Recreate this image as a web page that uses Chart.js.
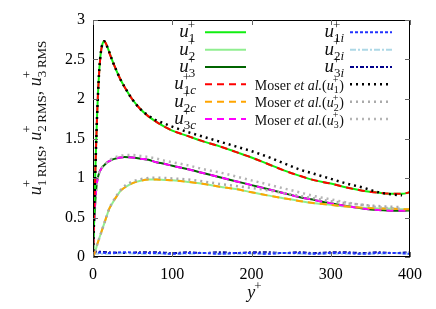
<!DOCTYPE html>
<html>
<head>
<meta charset="utf-8">
<script src="https://cdn.jsdelivr.net/npm/chart.js@4.4.0/dist/chart.umd.min.js"></script>
<style>
  html, body { margin: 0; padding: 0; background: #fff; }
</style>
</head>
<body>
<canvas id="chart" width="436" height="309"></canvas>
<script>
// y+ grid of the present simulation
const yPlus = [0, 1, 2, 3, 4, 5, 6, 8, 10, 12, 14, 16, 18, 20, 25, 30, 35, 40, 50, 60,
  70, 80, 90, 100, 120, 140, 160, 180, 200, 220, 240, 260, 280, 300, 320, 340, 360, 380, 390, 400];

const u1 = [0, 0.38, 0.75, 1.1, 1.45, 1.75, 2.0, 2.38, 2.6, 2.7, 2.73, 2.71, 2.66, 2.61, 2.47, 2.35, 2.24, 2.15, 1.99, 1.87,
  1.78, 1.71, 1.65, 1.60, 1.53, 1.46, 1.40, 1.33, 1.26, 1.18, 1.10, 1.03, 0.97, 0.93, 0.88, 0.84, 0.815, 0.80, 0.80, 0.82];
const u2 = [0, 0.02, 0.05, 0.08, 0.11, 0.15, 0.18, 0.24, 0.30, 0.36, 0.42, 0.48, 0.54, 0.60, 0.69, 0.77, 0.84, 0.88, 0.935, 0.965,
  0.98, 0.98, 0.975, 0.97, 0.95, 0.925, 0.89, 0.86, 0.82, 0.78, 0.745, 0.71, 0.68, 0.66, 0.64, 0.625, 0.615, 0.61, 0.605, 0.605];
const u3 = [0, 0.35, 0.55, 0.72, 0.85, 0.94, 1.0, 1.07, 1.11, 1.14, 1.16, 1.18, 1.20, 1.21, 1.235, 1.25, 1.26, 1.265, 1.26, 1.245,
  1.23, 1.20, 1.18, 1.155, 1.11, 1.06, 1.01, 0.96, 0.91, 0.86, 0.81, 0.76, 0.72, 0.68, 0.645, 0.615, 0.595, 0.585, 0.585, 0.59];

const u1c = [0, 0.37, 0.74, 1.1, 1.44, 1.74, 2.0, 2.37, 2.59, 2.7, 2.73, 2.71, 2.66, 2.6, 2.47, 2.35, 2.24, 2.15, 1.99, 1.87,
  1.78, 1.71, 1.65, 1.6, 1.53, 1.46, 1.4, 1.33, 1.26, 1.18, 1.1, 1.03, 0.97, 0.93, 0.88, 0.84, 0.815, 0.8, 0.8, 0.82];
const u2c = [0, 0.02, 0.05, 0.08, 0.11, 0.15, 0.18, 0.24, 0.30, 0.36, 0.42, 0.48, 0.54, 0.60, 0.69, 0.77, 0.84, 0.88, 0.935, 0.965,
  0.98, 0.98, 0.975, 0.97, 0.95, 0.925, 0.89, 0.86, 0.82, 0.78, 0.745, 0.71, 0.68, 0.66, 0.64, 0.625, 0.615, 0.61, 0.605, 0.605];
const u3c = [0, 0.35, 0.55, 0.72, 0.85, 0.94, 1.0, 1.07, 1.11, 1.14, 1.16, 1.18, 1.20, 1.21, 1.235, 1.25, 1.26, 1.265, 1.26, 1.245,
  1.23, 1.20, 1.18, 1.155, 1.11, 1.06, 1.01, 0.96, 0.91, 0.86, 0.81, 0.76, 0.72, 0.68, 0.645, 0.615, 0.595, 0.585, 0.585, 0.59];

// near-zero components
const iPlus = [0, 20, 40, 60, 80, 100, 120, 140, 160, 180, 200, 220, 240, 260, 280, 300, 320, 340, 360, 380, 400];
const u1i = [0.06, 0.05, 0.06, 0.05, 0.05, 0.04, 0.05, 0.05, 0.04, 0.05, 0.05, 0.04, 0.05, 0.05, 0.04, 0.05, 0.05, 0.04, 0.05, 0.05, 0.04];
const u2i = [0.04, 0.04, 0.05, 0.04, 0.04, 0.04, 0.04, 0.05, 0.04, 0.04, 0.04, 0.04, 0.05, 0.04, 0.04, 0.04, 0.04, 0.04, 0.04, 0.05, 0.04];
const u3i = [0.07, 0.06, 0.05, 0.06, 0.06, 0.05, 0.06, 0.05, 0.06, 0.05, 0.06, 0.06, 0.05, 0.06, 0.05, 0.06, 0.06, 0.05, 0.06, 0.05, 0.06];

// Moser et al. reference data
const mPlus = [0, 1, 2, 3, 4, 5, 6, 8, 10, 12, 14, 16, 18, 20, 25, 30, 35, 40, 50, 60,
  70, 80, 90, 100, 120, 140, 160, 180, 200, 220, 240, 260, 280, 300, 320, 340, 360, 380, 390];
const moser1 = [0, 0.38, 0.75, 1.1, 1.45, 1.75, 2.0, 2.38, 2.6, 2.7, 2.73, 2.71, 2.66, 2.61, 2.47, 2.35, 2.24, 2.15, 1.99, 1.87,
  1.79, 1.73, 1.69, 1.65, 1.58, 1.52, 1.46, 1.40, 1.34, 1.27, 1.19, 1.11, 1.05, 0.99, 0.93, 0.88, 0.82, 0.79, 0.78];
const moser2 = [0, 0.02, 0.05, 0.08, 0.11, 0.15, 0.18, 0.24, 0.30, 0.36, 0.42, 0.48, 0.54, 0.60, 0.70, 0.78, 0.85, 0.90, 0.955, 0.985,
  1.0, 1.005, 1.0, 0.995, 0.98, 0.955, 0.925, 0.90, 0.875, 0.845, 0.81, 0.775, 0.74, 0.705, 0.68, 0.66, 0.645, 0.635, 0.63];
const moser3 = [0, 0.35, 0.55, 0.72, 0.85, 0.94, 1.0, 1.07, 1.11, 1.14, 1.16, 1.18, 1.20, 1.22, 1.25, 1.27, 1.28, 1.29, 1.29, 1.28,
  1.265, 1.245, 1.22, 1.20, 1.16, 1.11, 1.07, 1.02, 0.97, 0.92, 0.87, 0.82, 0.77, 0.73, 0.69, 0.66, 0.63, 0.615, 0.61];

const xTicks = [0, 100, 200, 300, 400];
const yTicks = [0, 0.5, 1, 1.5, 2, 2.5, 3];

const SERIF = "'Liberation Serif', 'DejaVu Serif', serif";
const fontOf = (size, it) => (it ? 'italic ' : '') + size + 'px ' + SERIF;
const pts = (xs, ys) => xs.map((x, i) => ({ x: x, y: ys[i] }));

// label pieces: base text plus optional stacked sup/sub runs
const plus = [['+', false]];
const uLab = sub => [{ t: 'u', it: true, sup: plus, sub: sub }];
const moserLab = n => [{ t: 'Moser ', it: false }, { t: 'et al.', it: true }, { t: '(', it: false },
  { t: 'u', it: true, sup: plus, sub: [[n, false]] }, { t: ')', it: false }];

function line(label, xs, ys, color, dash, width, order, small) {
  return {
    data: pts(xs, ys), borderColor: color, borderDash: dash, borderWidth: width,
    order: order, pointRadius: 0, fill: false, legendLabel: label, legendSmall: !!small
  };
}

const datasets = [
  line(uLab([['1', false]]), yPlus, u1, '#11ee11', [], 2, 4),
  line(uLab([['2', false]]), yPlus, u2, '#90ee90', [], 2, 4),
  line(uLab([['3', false]]), yPlus, u3, '#006400', [], 2, 4),
  line(uLab([['1', false], ['c', true]]), yPlus, u1c, '#ff0000', [7, 5], 2, 2),
  line(uLab([['2', false], ['c', true]]), yPlus, u2c, '#ffa500', [7, 5], 2, 2),
  line(uLab([['3', false], ['c', true]]), yPlus, u3c, '#ff00ff', [7, 5], 2, 2),
  line(uLab([['1', false], ['i', true]]), iPlus, u1i, '#2233ff', [3, 2], 2, 3),
  line(uLab([['2', false], ['i', true]]), iPlus, u2i, '#add8e6', [6, 2, 2, 2], 2, 3),
  line(uLab([['3', false], ['i', true]]), iPlus, u3i, '#00008b', [4, 2, 2, 2], 2, 3),
  line(moserLab('1'), mPlus, moser1, '#000000', [2, 4], 2.5, 1, true),
  line(moserLab('2'), mPlus, moser2, '#aaaaaa', [2, 4], 2.5, 1, true),
  line(moserLab('3'), mPlus, moser3, '#b4b4b4', [2, 4], 2.5, 1, true)
];

function runWidth(ctx, run, size) {
  let w = 0;
  run.forEach(([t, it]) => { ctx.font = fontOf(size, it); w += ctx.measureText(t).width; });
  return w;
}
function drawRun(ctx, run, size, x, y) {
  run.forEach(([t, it]) => { ctx.font = fontOf(size, it); ctx.fillText(t, x, y); x += ctx.measureText(t).width; });
}
function richWidth(ctx, pieces, big, small) {
  let w = 0;
  pieces.forEach(p => {
    w += runWidth(ctx, [[p.t, p.it]], big);
    w += Math.max(p.sup ? runWidth(ctx, p.sup, small) : 0, p.sub ? runWidth(ctx, p.sub, small) : 0);
  });
  return w;
}
function drawRich(ctx, pieces, x, y, o) {
  const w = richWidth(ctx, pieces, o.big, o.small);
  let cx = o.align === 'right' ? x - w : o.align === 'center' ? x - w / 2 : x;
  ctx.textAlign = 'left';
  ctx.textBaseline = 'alphabetic';
  pieces.forEach(p => {
    drawRun(ctx, [[p.t, p.it]], o.big, cx, y);
    cx += runWidth(ctx, [[p.t, p.it]], o.big);
    if (p.sup) drawRun(ctx, p.sup, o.small, cx - 1, y + o.supDy);
    if (p.sub) drawRun(ctx, p.sub, o.small, cx, y + o.subDy);
    cx += Math.max(p.sup ? runWidth(ctx, p.sup, o.small) : 0, p.sub ? runWidth(ctx, p.sub, o.small) : 0);
  });
}

const framePlugin = {
  id: 'frame',
  afterDatasetsDraw(chart) {
    const { ctx, chartArea: a, scales: { x, y } } = chart;
    ctx.save();
    ctx.strokeStyle = '#000';
    ctx.lineWidth = 1;
    ctx.strokeRect(a.left + 0.5, a.top + 0.5, a.right - a.left - 1, a.bottom - a.top - 1);
    ctx.strokeStyle = '#666';
    ctx.beginPath();
    xTicks.forEach(v => {
      const px = Math.round(x.getPixelForValue(v)) + 0.5;
      ctx.moveTo(px, a.bottom); ctx.lineTo(px, a.bottom - 5);
      ctx.moveTo(px, a.top); ctx.lineTo(px, a.top + 5);
    });
    yTicks.forEach(v => {
      const py = Math.round(y.getPixelForValue(v)) + 0.5;
      ctx.moveTo(a.left, py); ctx.lineTo(a.left + 5, py);
      ctx.moveTo(a.right, py); ctx.lineTo(a.right - 5, py);
    });
    ctx.stroke();
    ctx.restore();
  },
  afterDraw(chart) {
    const ctx = chart.ctx;
    ctx.save();
    ctx.fillStyle = '#111';

    // legend: two columns, text right-aligned, sample line to its right
    chart.data.datasets.forEach((ds, i) => {
      const col = i < 6 ? 0 : 1;
      const row = i % 6;
      const ly = 32.3 + row * 17.35;
      const textRight = col === 0 ? 196 : 344;
      const x0 = col === 0 ? 205 : 350;
      const x1 = col === 0 ? 246 : 392;
      if (ds.legendSmall) {
        drawRich(ctx, ds.legendLabel, textRight, ly + 5.5, { big: 14, small: 10, supDy: -6.5, subDy: 3.5, align: 'right' });
      } else {
        drawRich(ctx, ds.legendLabel, textRight, ly + 5, { big: 19, small: 13, supDy: -8.5, subDy: 5, align: 'right' });
      }
      ctx.save();
      ctx.strokeStyle = ds.borderColor;
      ctx.lineWidth = ds.borderWidth;
      ctx.setLineDash(ds.borderDash);
      ctx.beginPath();
      ctx.moveTo(x0, ly); ctx.lineTo(x1, ly);
      ctx.stroke();
      ctx.restore();
    });

    // x axis title
    drawRich(ctx, [{ t: 'y', it: true, sup: plus }], 255, 298, { big: 18, small: 13, supDy: -8, subDy: 5, align: 'center' });

    // y axis title, rotated
    const rms = n => [[n, false], ['\u2009RMS', false]];
    const yTitle = [
      { t: 'u', it: true, sup: plus, sub: rms('1') }, { t: ', ', it: false },
      { t: 'u', it: true, sup: plus, sub: rms('2') }, { t: ', ', it: false },
      { t: 'u', it: true, sup: plus, sub: rms('3') }
    ];
    ctx.translate(41, 118);
    ctx.rotate(-Math.PI / 2);
    drawRich(ctx, yTitle, 0, 0, { big: 18, small: 13, supDy: -10, subDy: 5, align: 'center' });
    ctx.restore();
  }
};

new Chart(document.getElementById('chart'), {
  type: 'line',
  data: { datasets: datasets },
  options: {
    responsive: false,
    animation: false,
    devicePixelRatio: 1,
    layout: { padding: { left: 0, right: 26, top: 20, bottom: 0 } },
    plugins: { legend: { display: false }, tooltip: { enabled: false } },
    elements: { line: { cubicInterpolationMode: 'monotone' }, point: { radius: 0 } },
    scales: {
      x: {
        type: 'linear', min: 0, max: 400,
        grid: { display: false, drawTicks: false },
        border: { display: false },
        afterBuildTicks(s) { s.ticks = xTicks.map(v => ({ value: v })); },
        ticks: { color: '#000', font: { family: 'Liberation Serif', size: 16 }, padding: 8, maxRotation: 0,
          callback: v => String(v) },
        afterFit(s) { s.height = 52; }
      },
      y: {
        type: 'linear', min: 0, max: 3,
        grid: { display: false, drawTicks: false },
        border: { display: false },
        afterBuildTicks(s) { s.ticks = yTicks.map(v => ({ value: v })); },
        ticks: { color: '#000', font: { family: 'Liberation Serif', size: 16 }, padding: 8,
          callback: v => String(v) },
        afterFit(s) { s.width = 93; }
      }
    }
  },
  plugins: [framePlugin]
});
</script>
</body>
</html>
